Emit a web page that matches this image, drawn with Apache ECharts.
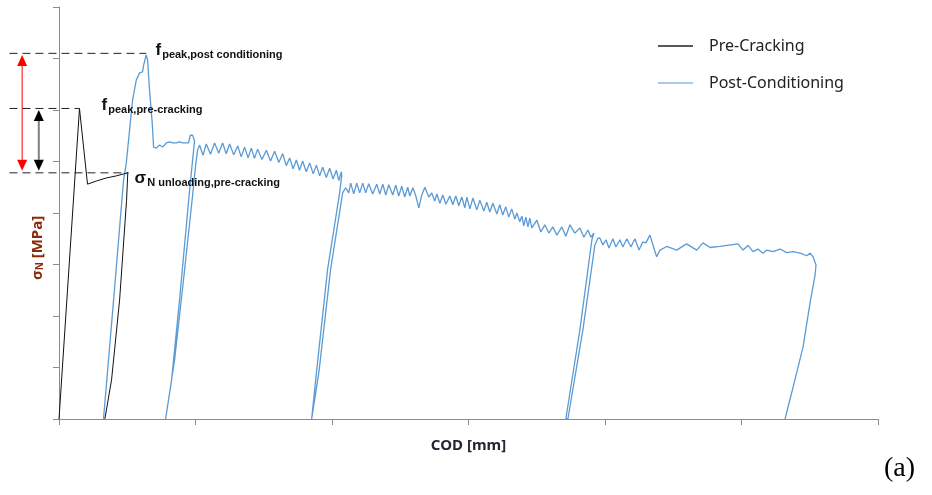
<!DOCTYPE html>
<html>
<head>
<meta charset="utf-8">
<script src="https://cdn.jsdelivr.net/npm/echarts@6/dist/echarts.min.js"></script>
<style>
  html, body { margin: 0; padding: 0; background: #fff; }
  #chart { width: 932px; height: 495px; }
</style>
</head>
<body>
<div id="chart"></div>
<script>
// COD [mm] on x, sigma_N [MPa] on y (axes carry no tick labels)
const preCracking = [
  [0, 0], [0.150, 6.03], [0.209, 4.56], [0.273, 4.62], [0.346, 4.68], [0.419, 4.72], [0.504, 4.78],
  [0.495, 4.25], [0.444, 2.31], [0.385, 0.76], [0.336, 0]
];

// post-conditioning curve, split at each unloading cycle
const postPeak = [
  [0.326, 0], [0.400, 2.31], [0.473, 4.64], [0.493, 4.97], [0.517, 5.61], [0.539, 6.19], [0.566, 6.58],
  [0.590, 6.72], [0.612, 6.74], [0.620, 6.87], [0.639, 7.07], [0.649, 6.97], [0.663, 6.39], [0.683, 5.75],
  [0.693, 5.28], [0.713, 5.26], [0.737, 5.32], [0.759, 5.28], [0.786, 5.36], [0.810, 5.38], [0.832, 5.36],
  [0.859, 5.36], [0.883, 5.38], [0.905, 5.36], [0.949, 5.36], [0.962, 5.51], [0.979, 5.51], [0.993, 5.40]
];
const postCycle1 = [
  [0.957, 4.45], [0.883, 2.31], [0.825, 0.76], [0.781, 0],
  [0.788, 0], [0.847, 1.15], [0.920, 2.89], [0.979, 4.35], [1.001, 4.93], [1.015, 5.22]
];
const postBranch1 = [
  [1.030, 5.32], [1.055, 5.12], [1.079, 5.34], [1.110, 5.14], [1.140, 5.36], [1.170, 5.16], [1.199, 5.36],
  [1.225, 5.15], [1.250, 5.34], [1.280, 5.13], [1.309, 5.30], [1.335, 5.09], [1.360, 5.28], [1.385, 5.07],
  [1.409, 5.26], [1.432, 5.06], [1.455, 5.24], [1.487, 5.04], [1.519, 5.22], [1.550, 5.01], [1.580, 5.20],
  [1.610, 4.98], [1.639, 5.15], [1.665, 4.92], [1.690, 5.07], [1.715, 4.86], [1.739, 5.03], [1.762, 4.83],
  [1.785, 5.01], [1.811, 4.80], [1.837, 4.97], [1.862, 4.76], [1.886, 4.93], [1.909, 4.72], [1.932, 4.89],
  [1.958, 4.69], [1.983, 4.87], [2.008, 4.66], [2.032, 4.83], [2.050, 4.63], [2.069, 4.80]
];
const postCycle2 = [
  [2.071, 4.72], [2.056, 4.39], [1.968, 2.91], [1.888, 0.95], [1.851, 0],
  [1.862, 0], [1.906, 0.95], [1.990, 2.91], [2.078, 4.39], [2.100, 4.49]
];
const postBranch2 = [
  [2.122, 4.39], [2.137, 4.58], [2.159, 4.37], [2.181, 4.58], [2.203, 4.39], [2.225, 4.58], [2.247, 4.39],
  [2.269, 4.57], [2.298, 4.37], [2.328, 4.56], [2.350, 4.37], [2.372, 4.56], [2.394, 4.35], [2.416, 4.55],
  [2.445, 4.35], [2.467, 4.54], [2.489, 4.33], [2.511, 4.52], [2.533, 4.31], [2.555, 4.50], [2.570, 4.33],
  [2.592, 4.49], [2.614, 4.33], [2.636, 4.10], [2.658, 4.35], [2.680, 4.50], [2.709, 4.31], [2.731, 4.39],
  [2.753, 4.23], [2.768, 4.37], [2.790, 4.19], [2.812, 4.35], [2.834, 4.17], [2.863, 4.33], [2.885, 4.16],
  [2.907, 4.33], [2.929, 4.14], [2.951, 4.31], [2.973, 4.10], [2.988, 4.31], [3.010, 4.08], [3.032, 4.29],
  [3.061, 4.06], [3.083, 4.25], [3.112, 4.04], [3.134, 4.21], [3.156, 4.02], [3.178, 4.19], [3.208, 3.98],
  [3.229, 4.16], [3.251, 3.96], [3.273, 4.12], [3.295, 3.92], [3.317, 4.08], [3.339, 3.88], [3.354, 4.00],
  [3.376, 3.83], [3.391, 3.94], [3.405, 3.75], [3.420, 3.92], [3.435, 3.73], [3.449, 3.90], [3.464, 3.71],
  [3.501, 3.86], [3.530, 3.63], [3.559, 3.77], [3.589, 3.61], [3.618, 3.73], [3.647, 3.57], [3.684, 3.73],
  [3.713, 3.55], [3.743, 3.77], [3.779, 3.61], [3.816, 3.71], [3.845, 3.53], [3.875, 3.67], [3.897, 3.53],
  [3.919, 3.61]
];
const postCycle3 = [
  [3.904, 3.48], [3.816, 1.73], [3.713, 0],
  [3.728, 0], [3.838, 1.73], [3.926, 3.38], [3.948, 3.51]
];
const postBranch3 = [
  [3.963, 3.51], [3.985, 3.38], [4.007, 3.48], [4.029, 3.32], [4.058, 3.50], [4.080, 3.34], [4.109, 3.48],
  [4.131, 3.34], [4.160, 3.50], [4.190, 3.34], [4.219, 3.50], [4.249, 3.28], [4.278, 3.44], [4.300, 3.42],
  [4.329, 3.57], [4.378, 3.15], [4.403, 3.28], [4.452, 3.35], [4.525, 3.28], [4.598, 3.40], [4.672, 3.28],
  [4.718, 3.42], [4.769, 3.33], [4.842, 3.35], [4.974, 3.40], [5.011, 3.28], [5.048, 3.37], [5.084, 3.25],
  [5.121, 3.30], [5.156, 3.22], [5.185, 3.28], [5.231, 3.25], [5.282, 3.30], [5.331, 3.23], [5.378, 3.25],
  [5.429, 3.22], [5.478, 3.17], [5.502, 3.22], [5.524, 3.15], [5.546, 2.99]
];
const postUnload = [
  [5.539, 2.80], [5.502, 2.25], [5.451, 1.40], [5.378, 0.62], [5.319, 0]
];

// dashed reference levels [start x, level, end x]: f_peak,post / f_peak,pre / sigma_N unloading
const levelData = [[-0.363, 7.10, 0.639], [-0.363, 6.03, 0.150], [-0.363, 4.78, 0.510]];

// double arrows [x, top, bottom]
const arrowData = [[-0.270, 7.07, 4.82], [-0.148, 6.00, 4.82]];
const arrowStyles = [
  { shaft: '#ff0000', head: '#ff0000', width: 1 },
  { shaft: '#808080', head: '#000000', width: 2 }
];

const notePoints = [[0.707, 7.146], [0.312, 6.078], [0.554, 4.66]];
const noteTexts = [
  '{f|f}{s|peak,post conditioning}',
  '{f|f}{s|peak,pre-cracking}',
  '{f|σ}{s|N unloading,pre-cracking}'
];

const postConditioning = [].concat(postPeak, postCycle1, postBranch1, postCycle2,
  postBranch2, postCycle3, postBranch3, postUnload);

const chart = echarts.init(document.getElementById('chart'));
const axisGray = '#8c8c8c';

const option = {
  animation: false,
  backgroundColor: '#fff',
  grid: { left: 59, right: 54, top: 7, bottom: 76 },
  legend: {
    data: ['Pre-Cracking', 'Post-Conditioning'],
    orient: 'vertical',
    left: 658,
    top: 38,
    padding: 0,
    icon: 'rect',
    itemWidth: 35,
    itemHeight: 1.5,
    itemGap: 21,
    textStyle: { fontSize: 16, color: '#222', fontFamily: 'Noto Sans', padding: [0, 0, 0, 11] }
  },
  xAxis: {
    type: 'value',
    min: 0,
    max: 6,
    interval: 1,
    name: 'COD [mm]',
    nameLocation: 'middle',
    nameGap: 19,
    nameTextStyle: { fontSize: 15, fontWeight: 'bold', color: '#252535', fontFamily: 'Noto Sans' },
    axisLine: { lineStyle: { color: axisGray } },
    axisTick: { show: true, length: 6, lineStyle: { color: axisGray } },
    axisLabel: { show: false },
    splitLine: { show: false }
  },
  yAxis: {
    type: 'value',
    min: 0,
    max: 8,
    interval: 1,
    name: '{s|σ}{n|N}{s| [MPa]}',
    nameLocation: 'middle',
    nameGap: 14,
    nameRotate: 90,
    nameTextStyle: {
      padding: [0, 70, 0, 0],
      rich: {
        s: { fontSize: 15, fontWeight: 'bold', color: '#8a2a0a', fontFamily: 'Noto Sans', verticalAlign: 'bottom' },
        n: { fontSize: 10, fontWeight: 'bold', color: '#8a2a0a', fontFamily: 'Noto Sans', verticalAlign: 'bottom' }
      }
    },
    axisLine: { show: true, lineStyle: { color: axisGray } },
    axisTick: { show: true, length: 6, lineStyle: { color: axisGray } },
    axisLabel: { show: false },
    splitLine: { show: false }
  },
  series: [
    {
      type: 'line',
      name: 'Post-Conditioning',
      data: postConditioning,
      symbol: 'none',
      lineStyle: { color: '#5b9bd5', width: 1.3 },
      itemStyle: { color: '#8fb8e3' },
      z: 2
    },
    {
      type: 'line',
      name: 'Pre-Cracking',
      data: preCracking,
      symbol: 'none',
      lineStyle: { color: '#111', width: 1 },
      itemStyle: { color: '#222' },
      z: 3
    },
    {
      type: 'custom',
      name: 'levels',
      data: levelData,
      clip: false,
      silent: true,
      z: 4,
      renderItem: function (params, api) {
        const a = api.coord([api.value(0), api.value(1)]);
        const b = api.coord([api.value(2), api.value(1)]);
        return {
          type: 'line',
          shape: { x1: a[0], y1: a[1], x2: b[0], y2: b[1] },
          style: { stroke: '#222', lineWidth: 1, lineDash: [8, 5] }
        };
      }
    },
    {
      type: 'custom',
      name: 'arrows',
      data: arrowData,
      clip: false,
      silent: true,
      z: 5,
      renderItem: function (params, api) {
        const top = api.coord([api.value(0), api.value(1)]);
        const bot = api.coord([api.value(0), api.value(2)]);
        const st = arrowStyles[params.dataIndex];
        const h = 11, w = 5;
        return {
          type: 'group',
          children: [
            { type: 'line', shape: { x1: top[0], y1: top[1] + h, x2: bot[0], y2: bot[1] - h },
              style: { stroke: st.shaft, lineWidth: st.width } },
            { type: 'polygon', shape: { points: [[top[0], top[1]], [top[0] - w, top[1] + h], [top[0] + w, top[1] + h]] },
              style: { fill: st.head } },
            { type: 'polygon', shape: { points: [[bot[0], bot[1]], [bot[0] - w, bot[1] - h], [bot[0] + w, bot[1] - h]] },
              style: { fill: st.head } }
          ]
        };
      }
    },
    {
      type: 'custom',
      name: 'notes',
      data: notePoints,
      clip: false,
      silent: true,
      z: 6,
      renderItem: function (params, api) {
        const p = api.coord([api.value(0), api.value(1)]);
        return {
          type: 'text',
          x: p[0],
          y: p[1],
          style: {
            text: noteTexts[params.dataIndex],
            align: 'left',
            verticalAlign: 'middle',
            fill: '#111',
            rich: {
              f: { fontSize: 17, fontWeight: 'bold', fontFamily: 'Liberation Sans', verticalAlign: 'bottom', padding: [0, 1, 2, 0] },
              s: { fontSize: 11, fontWeight: 'bold', fontFamily: 'Liberation Sans', verticalAlign: 'bottom' }
            }
          }
        };
      }
    }
  ],
  graphic: [
    {
      type: 'text',
      left: 884,
      top: 455,
      style: { text: '(a)', fontSize: 28, fontFamily: 'Liberation Serif', fill: '#000' }
    }
  ]
};

chart.setOption(option);
window.addEventListener('resize', function () {
  chart.resize();
});
</script>
</body>
</html>
